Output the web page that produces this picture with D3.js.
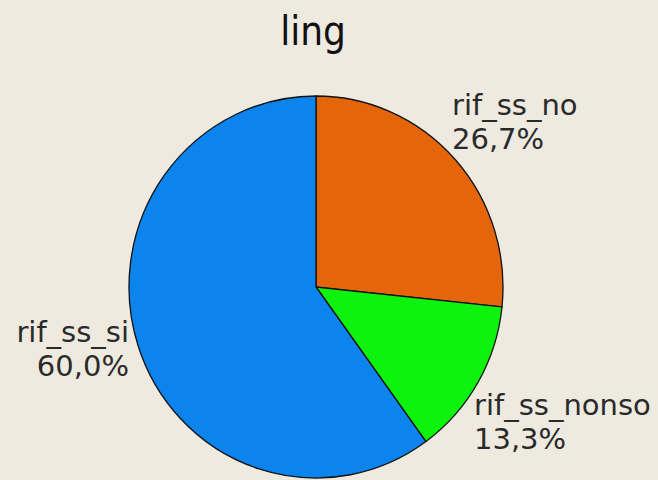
<!DOCTYPE html>
<html><head><meta charset="utf-8">
<script src="https://cdn.jsdelivr.net/npm/d3@7"></script>
<style>
html,body{margin:0;padding:0;background:#eeeae0;}
svg{display:block;}
</style></head>
<body>
<svg id="c" width="658" height="480"></svg>
<script>
// Data
const categories = ["rif_ss_no", "rif_ss_nonso", "rif_ss_si"];
const values = [4, 2, 9];
const percentLabels = ["26,7%", "13,3%", "60,0%"];
const colors = ["#e5660a", "#0ef30e", "#0b84ee"];
const title = "ling";

// Layout
const W = 658, H = 480;
const cx = 316, cy = 287, rx = 187, ry = 191;
// label anchor: [x, baseline of first line, text-anchor]
const labelLayout = [
  {x: 452, y: 115, anchor: "start"},
  {x: 474, y: 415, anchor: "start"},
  {x: 129, y: 342, anchor: "end"}
];
const lineGap = 34;

const svg = d3.select("#c");
svg.append("rect").attr("width", W).attr("height", H).attr("fill", "#eeeae0");

svg.append("text")
  .attr("x", cx - 3).attr("y", 45)
  .attr("text-anchor", "middle")
  .attr("font-family", "'DejaVu Sans Condensed','DejaVu Sans',sans-serif")
  .attr("font-size", 40)
  .attr("fill", "#111")
  .text(title);

const pie = d3.pie().sort(null).value(d => d)(values);
const arc = d3.arc().innerRadius(0).outerRadius(rx);

const g = svg.append("g").attr("transform", `translate(${cx},${cy}) scale(1,${ry/rx})`);
g.selectAll("path").data(pie).join("path")
  .attr("d", arc)
  .attr("fill", (d, i) => colors[i])
  .attr("stroke", "#111")
  .attr("stroke-width", 1.3)
  .attr("vector-effect", "non-scaling-stroke");

const lab = svg.append("g")
  .attr("font-family", "'DejaVu Sans',sans-serif")
  .attr("font-size", 29)
  .attr("fill", "#2a2a2a");
categories.forEach((c, i) => {
  const L = labelLayout[i];
  const t = lab.append("text").attr("text-anchor", L.anchor);
  t.append("tspan").attr("x", L.x).attr("y", L.y).text(c);
  t.append("tspan").attr("x", L.x).attr("y", L.y + lineGap).text(percentLabels[i]);
});
</script>
</body></html>
